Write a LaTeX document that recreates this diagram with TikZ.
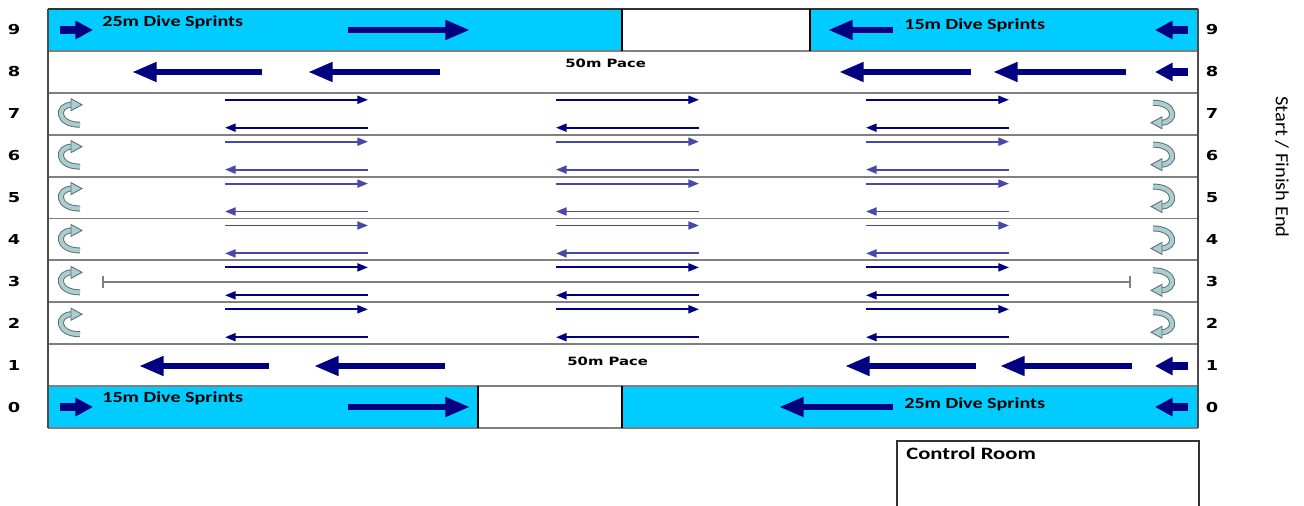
\documentclass[tikz,border=0pt]{standalone}
\usepackage{fontspec}
\usepackage{tikz}
\usetikzlibrary{arrows.meta, calc}
\newfontfamily\sprintfont[FakeStretch=1.3]{Carlito}
\newfontfamily\pacefont[FakeStretch=1.3]{DejaVu Sans}
\newfontfamily\endfont[FakeStretch=1.1]{Carlito}
\definecolor{poolcyan}{HTML}{00CCFF}
\definecolor{arrownavy}{HTML}{000080}
\definecolor{arrowslate}{HTML}{4848A8}
\definecolor{turnfill}{HTML}{A9CDD1}
\definecolor{turnline}{HTML}{5F6F70}
\definecolor{lanegray}{HTML}{808080}
\tikzset{
  bigarrow/.style={draw=arrownavy, line width=3.4pt, -{Triangle[length=14pt, width=10.5pt]}},
  smallarrow/.style={draw=arrownavy, line width=4.5pt, -{Triangle[length=10pt, width=10pt]}},
  thinarrow/.style={line width=1.1pt, -{Triangle[length=6pt, width=4.5pt]}},
  lanenum/.style={inner sep=0, font=\pacefont\bfseries\fontsize{7.8}{9}\selectfont},
  pace/.style={inner sep=0, anchor=base west, font=\pacefont\bfseries\fontsize{6.5}{8}\selectfont},
  sprint/.style={inner sep=0, anchor=base west, font=\sprintfont\bfseries\fontsize{8.8}{10}\selectfont},
  turn/.pic={
    \draw[turnline, line width=3.4pt] (2,-9) .. controls (-14,-9) and (-14,11) .. (10,11);
    \draw[turnfill, line width=2.3pt] (2,-9) .. controls (-14,-9) and (-14,11) .. (10,11);
    \filldraw[fill=turnfill, draw=turnline, line width=0.5pt] (1,-15) -- (12,-9) -- (1,-3) -- cycle;
  }
}
\begin{document}
\begin{tikzpicture}[x=0.02cm, y=-0.02cm]
  \useasboundingbox (0,0) rectangle (1304,506);

  \fill [poolcyan] (48,9) rectangle (622,50.9);
  \fill [poolcyan] (810,9) rectangle (1198,50.9);
  \fill [poolcyan] (48,386.1) rectangle (478,428);
  \fill [poolcyan] (622,386.1) rectangle (1198,428);

  \foreach \n in {0,...,10}
    \draw [lanegray, line width=1.1pt] (48,{9+\n*41.9}) -- (1198,{9+\n*41.9});
  \draw [black!80, line width=0.8pt] (48,9) -- (1198,9);
  \draw [black!70, line width=0.8pt] (48,9) -- (48,428);
  \draw [black!70, line width=0.8pt] (1198,9) -- (1198,428);
  \draw [black, line width=0.6pt] (622,9) -- (622,50.9);
  \draw [black, line width=0.6pt] (810,9) -- (810,50.9);
  \draw [black, line width=0.6pt] (478,386.1) -- (478,428);
  \draw [black, line width=0.6pt] (622,386.1) -- (622,428);

  \foreach \n in {0,...,9} {
    \node [lanenum] (L\n) at (14,{9+(9.5-\n)*41.9}) {\n};
    \node [lanenum] (R\n) at (1212,{9+(9.5-\n)*41.9}) {\n};
  }

  \foreach \n/\col in {7/arrownavy,6/arrowslate,5/arrowslate,4/arrowslate,3/arrownavy,2/arrownavy} {
    \foreach \xa/\xb in {225/368,556/699,866/1009} {
      \draw [thinarrow, \col] (\xa,{9+(9-\n)*41.9+7}) -- (\xb,{9+(9-\n)*41.9+7});
      \draw [thinarrow, \col] (\xb,{9+(10-\n)*41.9-7}) -- (\xa,{9+(10-\n)*41.9-7});
    }
    \pic at (70,{9+(9.5-\n)*41.9}) {turn};
    \pic [rotate=180] at (1163,{9+(9.5-\n)*41.9}) {turn};
  }

  \coordinate (M1) at (102,282);
  \coordinate (M2) at (1131,282);
  \draw [lanegray, line width=1.1pt, {Bar[width=7pt]}-{Bar[width=7pt]}] (M1) -- (M2);

  \draw [smallarrow] (60,30) -- (93,30);
  \draw [bigarrow] (348,30) -- (470,30);
  \draw [bigarrow] (893,30) -- (828,30);
  \draw [smallarrow] (1188,30) -- (1155,30);
  \node [sprint] (S25a) at (102,27) {25m Dive Sprints};
  \node [sprint] (S15a) at (904,30) {15m Dive Sprints};

  \draw [bigarrow] (262,72) -- (132,72);
  \draw [bigarrow] (440,72) -- (308,72);
  \draw [bigarrow] (971,72) -- (839,72);
  \draw [bigarrow] (1126,72) -- (993,72);
  \draw [smallarrow] (1188,72) -- (1155,72);
  \node [pace] (P8) at (565,68) {50m Pace};

  \draw [bigarrow] (269,366) -- (139,366);
  \draw [bigarrow] (445,366) -- (314,366);
  \draw [bigarrow] (976,366) -- (845,366);
  \draw [bigarrow] (1132,366) -- (1000,366);
  \draw [smallarrow] (1188,366) -- (1155,366);
  \node [pace] (P1) at (567,365) {50m Pace};

  \draw [smallarrow] (60,407) -- (93,407);
  \draw [bigarrow] (348,407) -- (470,407);
  \draw [bigarrow] (893,407) -- (779,407);
  \draw [smallarrow] (1188,407) -- (1155,407);
  \node [sprint] (S15b) at (102,402) {15m Dive Sprints};
  \node [sprint] (S25b) at (904,408) {25m Dive Sprints};

  \draw [black!80, line width=0.6pt] (897,506) |- (1199,441) -- (1199,506);
  \node [inner sep=0, anchor=base west, font=\sprintfont\bfseries\fontsize{9.9}{11}\selectfont] (CR) at (906,459) {Control Room};

  \node [inner sep=0, rotate=-90, font=\endfont\fontsize{10.6}{12}\selectfont] (SF) at (1282,167) {Start / Finish End};
\end{tikzpicture}
\end{document}
